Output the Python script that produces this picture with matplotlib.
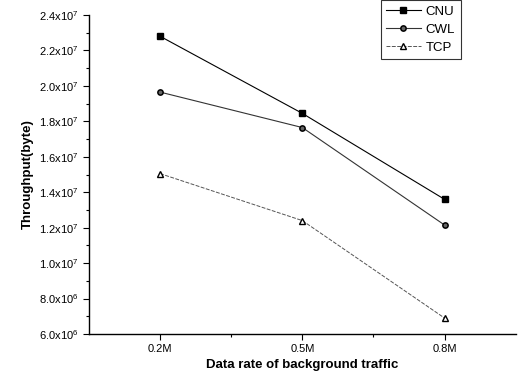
import matplotlib
matplotlib.use("Agg")
import matplotlib.pyplot as plt
from matplotlib.ticker import FixedLocator, MultipleLocator
import numpy as np

plt.rcParams.update({
    "font.family": ["Liberation Sans", "DejaVu Sans"],
    "mathtext.fontset": "custom",
    "mathtext.rm": "Liberation Sans",
})

# ── Data ──────────────────────────────────────────────────────────────────────
RATES = ["0.2M", "0.5M", "0.8M"]
CNU = [2.28e7, 1.845e7, 1.36e7]
CWL = [1.965e7, 1.765e7, 1.215e7]
TCP = [1.505e7, 1.24e7, 6.9e6]

Y_TICKS = [6.0e6, 8.0e6, 1.0e7, 1.2e7, 1.4e7, 1.6e7, 1.8e7, 2.0e7, 2.2e7, 2.4e7]


def sci_label(v):
    exp = int(np.floor(np.log10(v)))
    mant = v / 10 ** exp
    return f"{mant:.1f}x10$^{{{exp}}}$"


fig = plt.figure(figsize=(5.19, 3.85), dpi=100)
ax = fig.add_axes([0.1715, 0.1325, 0.822, 0.8285])

x = np.arange(len(RATES))
ax.plot(x, CNU, color="black", lw=0.8, marker="s", ms=3.8, mfc="black",
        mec="black", label="CNU")
ax.plot(x, CWL, color="#333333", lw=0.8, marker="o", ms=3.8, mfc="#666666",
        mec="black", mew=1.1, label="CWL")
ax.plot(x, TCP, color="#555555", lw=0.7, ls=(0, (4, 1.5)), marker="^", ms=4.6,
        mfc="white", mec="black", mew=1.0, label="TCP")

ax.set_xlim(-0.5, 2.5)
ax.set_ylim(6.0e6, 2.4e7)
ax.set_xticks(x)
ax.set_xticklabels(RATES, fontsize=8)
ax.xaxis.set_minor_locator(FixedLocator([0.5, 1.5]))
ax.set_yticks(Y_TICKS)
ax.set_yticklabels([sci_label(v) for v in Y_TICKS], fontsize=8)
ax.yaxis.set_minor_locator(MultipleLocator(1.0e6))
ax.tick_params(which="major", direction="out", length=4, width=0.8)
ax.tick_params(which="minor", direction="out", length=2.5, width=0.8)

for side in ("top", "right"):
    ax.spines[side].set_visible(False)
for side in ("left", "bottom"):
    ax.spines[side].set_linewidth(1.0)

ax.set_xlabel("Data rate of background traffic", fontsize=9.5,
              fontweight="bold", labelpad=3)
ax.set_ylabel("Throughput(byte)", fontsize=9.5, fontweight="bold", labelpad=4)

leg = fig.legend(loc="upper left", bbox_to_anchor=(381 / 519, 1.0),
                 fontsize=9.5, frameon=True, fancybox=False, edgecolor="black",
                 handlelength=2.6, borderpad=0.4, labelspacing=0.45,
                 handletextpad=0.4, borderaxespad=0)
leg.get_frame().set_linewidth(0.8)

fig.savefig("out.png", dpi=100)
